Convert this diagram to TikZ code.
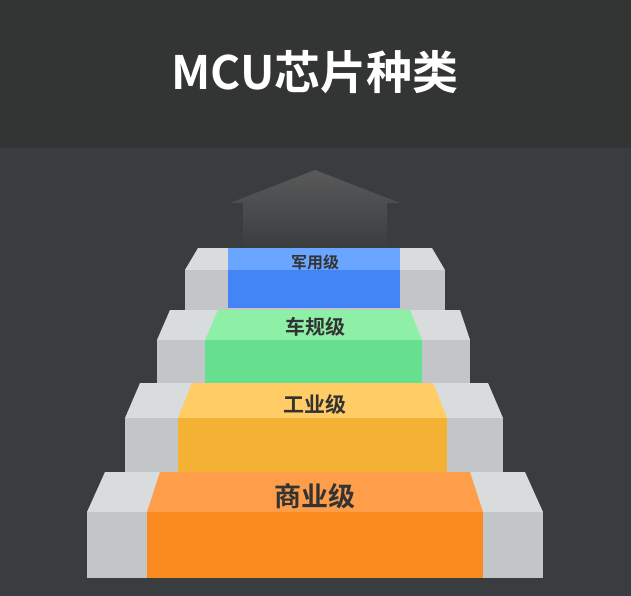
\documentclass[tikz,border=0pt]{standalone}
\usepackage{fontspec}
\newfontfamily\cjk{Noto Sans CJK SC Bold}
\definecolor{bgtop}{HTML}{333535}
\definecolor{bgbot}{HTML}{3A3D3F}
\definecolor{graytop}{HTML}{D9DCDD}
\definecolor{grayfront}{HTML}{C3C6C8}
\definecolor{labeltext}{HTML}{333333}
\definecolor{bluetop}{HTML}{6AA6FF}
\definecolor{bluefront}{HTML}{4385F7}
\definecolor{greentop}{HTML}{8EF0A7}
\definecolor{greenfront}{HTML}{66E08E}
\definecolor{yellowtop}{HTML}{FFCC66}
\definecolor{yellowfront}{HTML}{F4B234}
\definecolor{orangetop}{HTML}{FF9E4A}
\definecolor{orangefront}{HTML}{FB8A1E}
\tikzset{
  steplabel/.style={font=\cjk, text=labeltext, inner sep=0pt},
}
% step: y top, y mid, y bottom, outer top x0/x1, outer bottom x0/x1
\newcommand{\stair}[7]{%
  \fill[graytop] (#4,#1) -- (#5,#1) -- (#7,#2) -- (#6,#2) -- cycle;
  \fill[grayfront] (#6,#2) rectangle (#7,#3);
}
\begin{document}
\begin{tikzpicture}[x=1pt,y=-1pt]
  \useasboundingbox (0,0) rectangle (631,596);
  \fill[bgbot] (0,0) rectangle (631,596);
  \fill[bgtop] (0,0) rectangle (631,148);
  \node[font=\cjk\fontsize{46}{50}\selectfont, text=white] (title) at (315,72) {MCU芯片种类};
  % arrow
  \shade[top color=gray!70!black, bottom color=bgbot]
    (230,203) -- (315,170) -- (400,203) -- (387,203) -- (387,248) -- (243,248) -- (243,203) -- cycle;
  % steps, top to bottom
  \stair{248}{270}{310}{198}{432}{185}{445}
  \fill[bluetop] (228,248) rectangle (400,270);
  \fill[bluefront] (228,270) rectangle (400,308);
  \stair{310}{340}{383}{170}{460}{157}{470}
  \fill[greentop] (218,310) -- (410,310) -- (422,340) -- (205,340) -- cycle;
  \fill[greenfront] (205,340) rectangle (422,383);
  \stair{383}{418}{472}{140}{488}{125}{503}
  \fill[yellowtop] (192,383) -- (433,383) -- (447,418) -- (178,418) -- cycle;
  \fill[yellowfront] (178,418) rectangle (447,472);
  \stair{472}{512}{578}{105}{525}{87}{543}
  \fill[orangetop] (160,472) -- (470,472) -- (483,512) -- (147,512) -- cycle;
  \fill[orangefront] (147,512) rectangle (483,578);
  % labels
  \node[steplabel, font=\cjk\fontsize{16}{18}\selectfont] (military) at (315,262) {军用级};
  \node[steplabel, font=\cjk\fontsize{20}{22}\selectfont] (auto) at (315,327) {车规级};
  \node[steplabel, font=\cjk\fontsize{21}{24}\selectfont] (industry) at (315,404) {工业级};
  \node[steplabel, font=\cjk\fontsize{27}{30}\selectfont] (commerce) at (315,496) {商业级};
\end{tikzpicture}
\end{document}
